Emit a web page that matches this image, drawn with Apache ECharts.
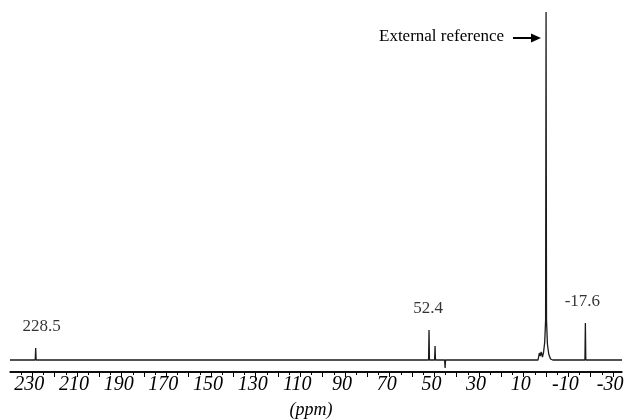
<!DOCTYPE html>
<html>
<head>
<meta charset="utf-8">
<script src="https://cdn.jsdelivr.net/npm/echarts@6/dist/echarts.min.js"></script>
<style>
html,body{margin:0;padding:0;background:#fff;}
#chart{width:625px;height:420px;}
</style>
</head>
<body>
<div id="chart"></div>
<script>
// Axis range (ppm, reversed)
const ppmMin = -34;
const ppmMax = 240;
const intMin = -12;
const intMax = 348;
// Labelled tick values and all tick values
const labelTicks = [230, 210, 190, 170, 150, 130, 110, 90, 70, 50, 30, 10, -10, -30];
const majorTicks = [230, 220, 210, 200, 190, 180, 170, 160, 150, 140, 130, 120, 110, 100, 90, 80, 70, 60, 50, 40, 30, 20, 10, 0, -10, -20, -30];
const minorTicks = [235, 225, 215, 205, 195, 185, 175, 165, 155, 145, 135, 125, 115, 105, 95, 85, 75, 65, 55, 45, 35, 25, 15, 5, -5, -15, -25];

// Spectrum trace: chemical shift (ppm) and intensity (arbitrary units)
const specPpm = [240, 228.7, 228.5, 228.3, 52.6, 52.4, 52.2, 49.9, 49.7, 49.5, 45.4, 45.2, 45.0,
  3.6, 3.0, 2.6, 2.2, 1.6, 1.1, 0.6, 0.2, 0.0, -0.2, -0.6, -1.2, -2.0, -3.0,
  -17.4, -17.6, -17.8, -34];
const specInt = [0, 0, 12, 0, 0, 30, 0, 0, 14, 0, 0, -8, 0,
  0, 7, 4, 8, 3, 8, 18, 40, 348, 40, 16, 6, 1, 0,
  0, 37, 0, 0];

// Annotated peaks
const peakShift = [228.5, 52.4, -17.6];
const peakHeight = [12, 30, 37];
const peakLabel = ['228.5', '52.4', '-17.6'];
const peakLabelOffsetX = [6, -1, -3];

const spectrum = specPpm.map((p, i) => [p, specInt[i]]);
const peaks = peakShift.map((p, i) => ({
  value: [p, peakHeight[i]],
  label: { offset: [peakLabelOffsetX[i], 0] }
}));

const serif = '"Liberation Serif", "DejaVu Serif", serif';

const chart = echarts.init(document.getElementById('chart'));
chart.setOption({
  animation: false,
  backgroundColor: '#fff',
  grid: { left: 10, right: 3, top: 12, bottom: 48, containLabel: false, outerBoundsMode: 'none' },
  xAxis: [{
    type: 'value', min: ppmMin, max: ppmMax, inverse: true, position: 'bottom',
    name: '(ppm)', nameLocation: 'middle', nameGap: 29,
    nameTextStyle: { fontFamily: serif, fontStyle: 'italic', fontSize: 18, color: '#000', padding: [0, 10, 0, 0] },
    axisLine: { show: true, onZero: false, lineStyle: { color: '#000', width: 1.5 } },
    axisTick: { show: true, customValues: majorTicks, length: 5, lineStyle: { color: '#000' } },
    axisLabel: { customValues: labelTicks, margin: 3, padding: [0, 6, 0, 0], fontFamily: serif, fontStyle: 'italic', fontSize: 20, color: '#000', hideOverlap: false },
    splitLine: { show: false }
  }, {
    type: 'value', min: ppmMin, max: ppmMax, inverse: true, position: 'bottom',
    axisLine: { show: false, onZero: false },
    axisTick: { show: true, customValues: minorTicks, length: 3, lineStyle: { color: '#000' } },
    axisLabel: { show: false },
    splitLine: { show: false }
  }],
  yAxis: { type: 'value', min: intMin, max: intMax, show: false, splitLine: { show: false } },
  series: [{
    type: 'line', data: spectrum, xAxisIndex: 0, showSymbol: false, symbol: 'none',
    lineStyle: { color: '#1a1a1a', width: 1.3 }, clip: false, silent: true,
    markLine: { silent: true, symbol: 'none', label: { show: false },
      lineStyle: { color: '#000', type: 'solid', width: 1.5 },
      data: [{ yAxis: intMin }] }
  }, {
    type: 'scatter', data: peaks, xAxisIndex: 0, symbolSize: 1,
    itemStyle: { color: 'rgba(0,0,0,0)' },
    label: {
      show: true, position: 'top', distance: 12,
      formatter: p => peakLabel[p.dataIndex],
      fontFamily: serif, fontSize: 17, color: '#000'
    }
  }],
  graphic: [
    { type: 'text', left: 379, top: 28, style: { text: 'External reference', font: '17px ' + serif, fill: '#000' } },
    { type: 'line', shape: { x1: 513, y1: 38, x2: 533, y2: 38 }, style: { stroke: '#000', lineWidth: 2 } },
    { type: 'polygon', shape: { points: [[531, 33.5], [541, 38], [531, 42.5]] }, style: { fill: '#000' } }
  ]
});
</script>
</body>
</html>
